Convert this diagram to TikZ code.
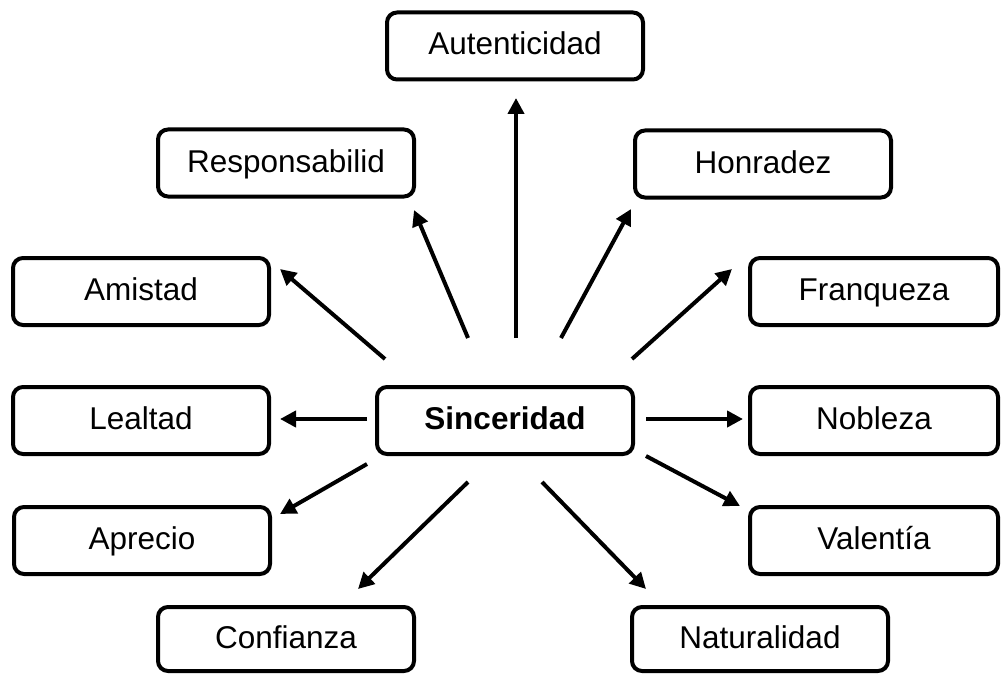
\documentclass[tikz,border=0pt]{standalone}
\usepackage{fontspec}
\setmainfont{Liberation Sans}
\usetikzlibrary{arrows.meta}
\begin{document}
\begin{tikzpicture}[x=1pt,y=-1pt,
  box/.style={draw=black,line width=4pt,rounded corners=10pt,fill=white,
    minimum width=256pt,minimum height=67pt,inner sep=0pt,
    text height=24pt,text depth=6pt,
    font=\fontsize{31.5}{36}\selectfont},
  rbox/.style={box,minimum width=248pt},
  arr/.style={line width=4pt,-{Triangle[length=16pt,width=16pt]}}]
\useasboundingbox[fill=white] (0,0) rectangle (1001,674);
% nodes
\node[box] (aut) at (515,46) {Autenticidad};
\node[box] (resp) at (286,163) {Responsabilid};
\node[box] (honr) at (763,164) {Honradez};
\node[box] (amis) at (141,291.5) {Amistad};
\node[rbox] (franq) at (874,291.5) {Franqueza};
\node[box] (leal) at (141,420.5) {Lealtad};
\node[box] (sinc) at (505,420.5) {\textbf{Sinceridad}};
\node[rbox] (nobl) at (874,420.5) {Nobleza};
\node[box] (apre) at (142,540.5) {Aprecio};
\node[rbox] (vale) at (874,540.5) {Valentía};
\node[box,minimum height=64pt] (conf) at (286,639) {Confianza};
\node[box,minimum height=64pt] (natu) at (760,639) {Naturalidad};
% connector ends
\coordinate (s-aut) at (516,338);   \coordinate (e-aut) at (516,98);
\coordinate (s-resp) at (468,338);  \coordinate (e-resp) at (414,210);
\coordinate (s-honr) at (561,338);  \coordinate (e-honr) at (631,209);
\coordinate (s-amis) at (385,359);  \coordinate (e-amis) at (280,269);
\coordinate (s-franq) at (632,359); \coordinate (e-franq) at (732,269);
\coordinate (s-leal) at (367,419);  \coordinate (e-leal) at (280,419);
\coordinate (s-nobl) at (646,419);  \coordinate (e-nobl) at (743,419);
\coordinate (s-apre) at (367,464);  \coordinate (e-apre) at (280,514);
\coordinate (s-vale) at (646,456);  \coordinate (e-vale) at (740,506);
\coordinate (s-conf) at (468,482);  \coordinate (e-conf) at (358,589);
\coordinate (s-natu) at (542,482);  \coordinate (e-natu) at (646,589);
% connectors
\foreach \n in {aut,resp,honr,amis,franq,leal,nobl,apre,vale,conf,natu}
  \draw[arr] (s-\n) -- (e-\n);
\end{tikzpicture}
\end{document}
